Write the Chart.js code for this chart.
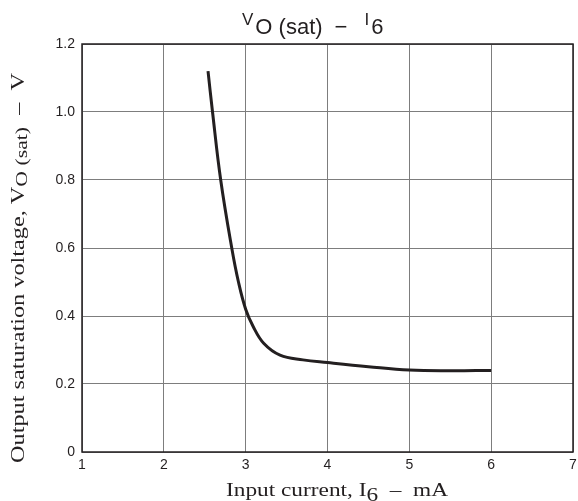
<!DOCTYPE html>
<html>
<head>
<meta charset="utf-8">
<style>
  body { margin: 0; background: #fff; }
  canvas { display: block; }
</style>
<script src="https://cdn.jsdelivr.net/npm/chart.js@4/dist/chart.umd.min.js"></script>
</head>
<body>
<canvas id="satChart" width="578" height="501"></canvas>
<script>
// curve
var currentMA = [2.54, 2.595, 2.695, 2.83, 2.912, 3.0, 3.09, 3.22, 3.42, 3.7, 4.0, 4.5, 5.0, 5.5, 6.0];
var voltageV  = [1.12, 1.00, 0.80, 0.60, 0.50, 0.42, 0.37, 0.32, 0.285, 0.271, 0.263, 0.251, 0.241, 0.239, 0.240];
var xTicks = [1, 2, 3, 4, 5, 6, 7];
var yTicks = [0, 0.2, 0.4, 0.6, 0.8, 1.0, 1.2];

var INK = "#231f20";
var SANS = "'Liberation Sans', Arial, sans-serif";
var SERIF = "'Liberation Serif', 'Times New Roman', serif";

function runsWidth(ctx, runs) {
  var w = 0;
  runs.forEach(function(r) {
    ctx.font = r.font;
    w += (r.gap || 0) + ctx.measureText(r.t).width;
  });
  return w;
}

// draw a row of text pieces (for the subscripts), optionally stretched to a length
function drawRuns(ctx, runs, x, y, len) {
  var sx = len ? len / runsWidth(ctx, runs) : 1;
  ctx.save();
  ctx.translate(x, y);
  ctx.scale(sx, 1);
  var cx = 0;
  runs.forEach(function(r) {
    cx += r.gap || 0;
    ctx.font = r.font;
    ctx.fillText(r.t, cx, r.dy || 0);
    cx += ctx.measureText(r.t).width;
  });
  ctx.restore();
}

var labelsPlugin = {
  id: "labels",
  beforeDatasetsDraw: function(chart) {
    var ctx = chart.ctx, a = chart.chartArea;
    ctx.save();
    ctx.strokeStyle = INK;
    ctx.lineWidth = 1.5;
    ctx.strokeRect(a.left, a.top, a.right - a.left, a.bottom - a.top);
    ctx.restore();
  },
  afterDraw: function(chart) {
    var ctx = chart.ctx;
    ctx.save();
    ctx.fillStyle = INK;
    ctx.textBaseline = "alphabetic";
    ctx.textAlign = "left";

    // title
    drawRuns(ctx, [
      { t: "V", font: "17px " + SANS, dy: -9 },
      { t: "O (sat)", font: "22px " + SANS, gap: 2 },
      { t: "\u2212", font: "22px " + SANS, gap: 12 },
      { t: "I", font: "17px " + SANS, dy: -9, gap: 17 },
      { t: "6", font: "22px " + SANS, gap: 2 }
    ], 242, 34);

    // x axis title
    drawRuns(ctx, [
      { t: "Input current, I", font: "19px " + SERIF },
      { t: "6", font: "19px " + SERIF, dy: 5 },
      { t: "  \u2013  mA", font: "19px " + SERIF }
    ], 226, 496, 222);

    // y axis title
    ctx.translate(24, 463);
    ctx.rotate(-Math.PI / 2);
    drawRuns(ctx, [
      { t: "Output saturation voltage, V", font: "19px " + SERIF },
      { t: "O (sat)", font: "17px " + SERIF, dy: 3 },
      { t: "  \u2013  V", font: "19px " + SERIF }
    ], 0, 0, 390);
    ctx.restore();
  }
};

var ctx = document.getElementById("satChart").getContext("2d");
var chart = new Chart(ctx, {
  type: "line",
  data: {
    datasets: [{
      data: currentMA.map(function(x, i) { return { x: x, y: voltageV[i] }; }),
      borderColor: INK,
      borderWidth: 3,
      pointRadius: 0,
      fill: false,
      tension: 0.4
    }]
  },
  options: {
    responsive: false,
    animation: false,
    layout: { padding: { left: 0, right: 5, top: 44, bottom: 0 } },
    plugins: {
      legend: { display: false },
      tooltip: { enabled: false }
    },
    scales: {
      x: {
        type: "linear",
        min: xTicks[0],
        max: xTicks[xTicks.length - 1],
        afterBuildTicks: function(s) { s.ticks = xTicks.map(function(v) { return { value: v }; }); },
        afterFit: function(s) { s.height = 49; s.paddingLeft = 0; s.paddingRight = 0; },
        grid: { color: "#7d7d7d", lineWidth: 1, drawTicks: false },
        border: { display: false },
        ticks: {
          padding: 5,
          color: INK,
          font: { family: SANS, size: 14 },
          maxRotation: 0
        }
      },
      y: {
        min: yTicks[0],
        max: yTicks[yTicks.length - 1],
        afterBuildTicks: function(s) { s.ticks = yTicks.map(function(v) { return { value: v }; }); },
        afterFit: function(s) { s.width = 82; s.paddingTop = 0; s.paddingBottom = 0; },
        grid: { color: "#7d7d7d", lineWidth: 1, drawTicks: false },
        border: { display: false },
        ticks: {
          padding: 7,
          color: INK,
          font: { family: SANS, size: 14 },
          callback: function(v) { return v === 0 ? "0" : v.toFixed(1); }
        }
      }
    }
  },
  plugins: [labelsPlugin]
});
</script>
</body>
</html>
